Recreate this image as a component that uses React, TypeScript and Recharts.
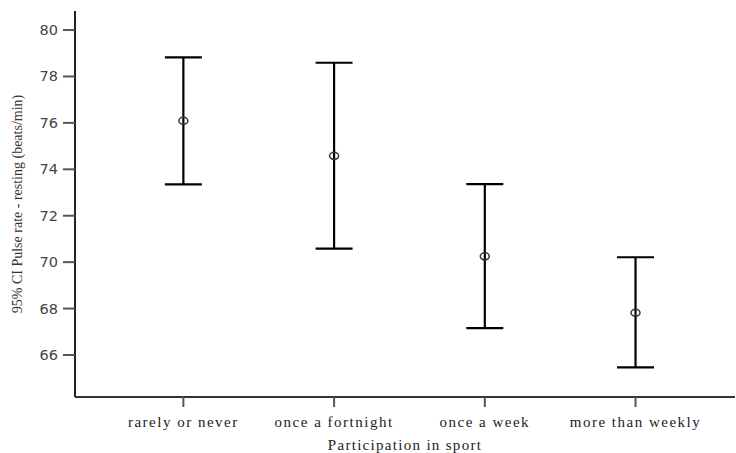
import React from 'react';
import { ScatterChart, Scatter, XAxis, YAxis, ErrorBar } from 'recharts';

const categories = ['rarely or never', 'once a fortnight', 'once a week', 'more than weekly'];
const means = [76.09, 74.58, 70.25, 67.82];
const lowers = [73.35, 70.58, 67.16, 65.47];
const uppers = [78.82, 78.59, 73.36, 70.21];
const yTicks = [66, 68, 70, 72, 74, 76, 78, 80];

const data = categories.map((c, i) => ({
  x: i,
  y: means[i],
  err: [means[i] - lowers[i], uppers[i] - means[i]],
}));

const serif = '"Liberation Serif", "Times New Roman", serif';
const sans = '"DejaVu Sans", Verdana, sans-serif';

const Marker = (props: any) => {
  const { cx, cy } = props;
  if (cx == null || cy == null) return null;
  return <ellipse cx={cx} cy={cy} rx={4.5} ry={3.5} fill="none" stroke="#333" strokeWidth={1.5} />;
};

const XTick = (props: any) => {
  const { x, y, payload } = props;
  return (
    <text x={x} y={y + 17} textAnchor="middle" fill="#222" fontSize={15} fontFamily={serif} letterSpacing={1.5}>
      {categories[payload.value] ?? ''}
    </text>
  );
};

const YTick = (props: any) => {
  const { x, y, payload } = props;
  return (
    <text x={x} y={y + 5} textAnchor="end" fill="#444" fontSize={14.5} fontFamily={sans}>
      {payload.value}
    </text>
  );
};

export default function App() {
  return (
    <div style={{ position: 'absolute', left: 0, top: 0, width: 736, height: 453, background: '#fff' }}>
      <ScatterChart width={736} height={453} margin={{ top: 11, right: 1, bottom: 0, left: 0 }}>
        <XAxis
          type="number"
          dataKey="x"
          domain={[-0.719, 3.66]}
          ticks={[0, 1, 2, 3]}
          allowDataOverflow
          height={56}
          axisLine={{ stroke: '#333', strokeWidth: 2 }}
          tickLine={{ stroke: '#555', strokeWidth: 2 }}
          tickSize={10}
          tickMargin={3}
          tick={<XTick />}
          label={{
            value: 'Participation in sport',
            position: 'insideBottom',
            offset: 0,
            dy: -3,
            fill: '#222',
            fontSize: 15,
            fontFamily: serif,
            letterSpacing: 1.3,
          }}
        />
        <YAxis
          type="number"
          dataKey="y"
          domain={[64.19, 80.82]}
          ticks={yTicks}
          allowDataOverflow
          width={75}
          axisLine={{ stroke: '#222', strokeWidth: 2 }}
          tickLine={{ stroke: '#555', strokeWidth: 2 }}
          tickSize={12}
          tickMargin={5}
          tick={<YTick />}
          label={{
            value: '95% CI Pulse rate - resting (beats/min)',
            angle: -90,
            position: 'insideLeft',
            offset: 0,
            dx: 17,
            dy: 0,
            fill: '#333',
            fontSize: 14,
            fontFamily: serif,
            style: { textAnchor: 'middle' },
          }}
        />
        <Scatter data={data} isAnimationActive={false} shape={<Marker />}>
          <ErrorBar dataKey="err" direction="y" width={18.5} stroke="#000" strokeWidth={2.2} isAnimationActive={false} />
        </Scatter>
      </ScatterChart>
    </div>
  );
}
